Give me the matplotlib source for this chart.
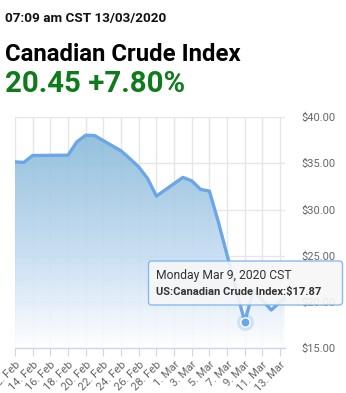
import matplotlib
matplotlib.use('Agg')
import matplotlib.pyplot as plt
import numpy as np
from matplotlib.patches import FancyBboxPatch
from matplotlib.colors import LinearSegmentedColormap

# days after 12 Feb 2020 (trading days), last point is the intraday quote on 13 Mar
days = [0, 1, 2, 6, 7, 8, 9, 12, 13, 14, 15, 16, 19, 20, 21, 22, 23, 26, 27, 28, 29, 30.5]
prices = [35.15, 35.09, 35.84, 35.87, 37.31, 38.03, 38.00, 36.34, 35.50, 34.60, 33.36,
          31.45, 33.47, 33.10, 32.17, 31.99, 28.70, 17.87, 21.30, 20.20, 19.14, 20.45]

tick_days = list(range(0, 31, 2))
tick_labels = ['12. Feb', '14. Feb', '16. Feb', '18. Feb', '20. Feb', '22. Feb', '24. Feb',
               '26. Feb', '28. Feb', '1. Mar', '3. Mar', '5. Mar', '7. Mar', '9. Mar',
               '11. Mar', '13. Mar']
y_ticks = [15, 20, 25, 30, 35, 40]

hover_idx = 17

plt.rcParams['font.family'] = ['Roboto', 'DejaVu Sans']

W, H = 346, 393
fig = plt.figure(figsize=(W / 100, H / 100), dpi=100)
ax = fig.add_axes([15 / W, 1 - 348.3 / H, (284.5 - 15) / W, (348.3 - 117) / H])

ax.set_xlim(days[0], days[-1])
ax.set_ylim(15, 40)

# grid
for d in tick_days:
    ax.axvline(d, color='#e6e6e6', lw=1, zorder=0)
for v in y_ticks:
    ax.axhline(v, color='#e6e6e6', lw=1, zorder=0)

# gradient fill under line (dark at the top, white at the bottom)
cmap = LinearSegmentedColormap.from_list(
    'fill', [(0, (1, 1, 1)), (0.4, (0.77, 0.86, 0.95)), (1, (0.50, 0.71, 0.83))])
grad = np.linspace(0, 1, 256).reshape(-1, 1)
im = ax.imshow(grad, cmap=cmap, extent=[days[0], days[-1], 15, 40], aspect='auto',
               alpha=0.9, zorder=1, origin='lower')
poly = ax.fill_between(days, prices, 15, color='none', lw=0)
path = poly.get_paths()[0]
im.set_clip_path(path, transform=ax.transData)

ax.plot(days, prices, color='#6ba7e8', lw=2.4, zorder=3, solid_joinstyle='round')

# hovered point
ax.scatter([days[hover_idx]], [prices[hover_idx]], s=150, color='#6ba7e8', alpha=0.25,
           lw=0, zorder=4)
ax.scatter([days[hover_idx]], [prices[hover_idx]], s=45, color='#6ba7e8',
           edgecolor='white', lw=1, zorder=5)

for s in ['top', 'left', 'right']:
    ax.spines[s].set_visible(False)
ax.spines['bottom'].set_color('#ccd6eb')
ax.spines['bottom'].set_linewidth(1)

ax.set_xticks(tick_days)
ax.set_xticklabels(tick_labels, rotation=45, ha='right', rotation_mode='anchor',
                   fontsize=8, color='#666666')
ax.tick_params(axis='x', length=6, color='#ccd6eb', pad=2)

ax.yaxis.tick_right()
ax.set_yticks(y_ticks)
ax.set_yticklabels(['$%.2f' % v for v in y_ticks], fontsize=8, color='#666666')
ax.tick_params(axis='y', length=0, pad=12)

# header
fig.text(5 / W, 1 - 21.7 / H, '07:09 am CST 13/03/2020', fontsize=9.7, fontweight='bold',
         color='#111111')
fig.text(5 / W, 1 - 61 / H, 'Canadian Crude Index', fontsize=17.2, fontweight='bold',
         color='#000000')
fig.text(5 / W, 1 - 91.7 / H, '20.45 +7.80%', fontsize=21.2, fontweight='bold',
         color='#0f7b1c')

# tooltip
box = FancyBboxPatch((148.5 / W, 1 - 305 / H), (342.5 - 148.5) / W, (305 - 261) / H,
                     boxstyle='round,pad=0,rounding_size=0.008', transform=fig.transFigure,
                     facecolor='#f7f7f7', edgecolor='#7cb5ec', lw=1, alpha=0.9, zorder=10)
fig.patches.append(box)
fig.text(156.5 / W, 1 - 279 / H, 'Monday Mar 9, 2020 CST', fontsize=8.7, color='#333333',
         zorder=11)
fig.text(156.5 / W, 1 - 295 / H, 'US:Canadian Crude Index:$%.2f' % prices[hover_idx],
         fontsize=8, fontweight='bold', color='#333333', zorder=11)

fig.savefig('out.png', dpi=100)
